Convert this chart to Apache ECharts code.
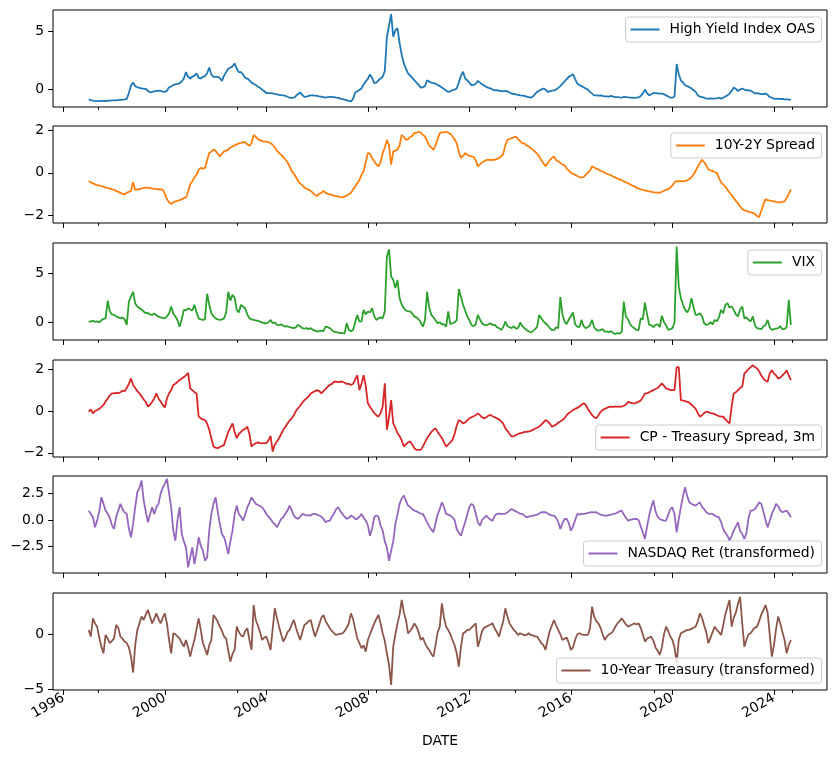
<!DOCTYPE html>
<html><head><meta charset="utf-8">
<script src="https://cdn.jsdelivr.net/npm/echarts@6/dist/echarts.min.js"></script>
<style>html,body{margin:0;padding:0;background:#fff}#c{width:838px;height:759px}</style>
</head><body><div id="c"></div><script>
// ---- data (monthly, starting Jan 1997) ----
const startYear = 1997;
const seriesNames = ['High Yield Index OAS','10Y-2Y Spread','VIX','CP - Treasury Spread, 3m','NASDAQ Ret (transformed)','10-Year Treasury (transformed)'];
const seriesColors = ['#1f77b4','#ff7f0e','#2ca02c','#d62728','#9467bd','#8c564b'];

const hyOAS = [
-0.84,-0.9,-0.95,-0.98,-0.99,-1.0,-0.98,-0.97,-1.0,-0.96,-0.95,-0.93,
-0.93,-0.92,-0.9,-0.88,-0.87,-0.85,-0.8,-0.3,0.35,0.6,0.3,0.2,
0.15,0.1,0.08,0.05,-0.1,-0.24,-0.2,-0.15,-0.12,-0.1,-0.12,-0.18,
-0.2,-0.1,0.2,0.25,0.4,0.45,0.5,0.55,0.7,0.95,1.5,1.1,
0.95,1.1,1.2,1.4,1.0,0.95,1.1,1.15,1.4,1.9,1.3,1.1,
1.1,1.1,1.0,0.75,1.2,1.5,1.8,1.9,2.0,2.25,1.8,1.5,
1.5,1.3,1.0,0.95,0.8,0.6,0.5,0.4,0.25,0.15,0.0,-0.15,
-0.3,-0.3,-0.3,-0.32,-0.38,-0.42,-0.45,-0.48,-0.5,-0.55,-0.62,-0.7,
-0.72,-0.7,-0.55,-0.38,-0.25,-0.45,-0.63,-0.6,-0.55,-0.5,-0.5,-0.52,
-0.55,-0.58,-0.6,-0.65,-0.7,-0.65,-0.63,-0.62,-0.65,-0.7,-0.72,-0.78,
-0.82,-0.87,-0.92,-0.98,-1.02,-0.8,-0.25,-0.15,-0.03,0.1,0.44,0.7,
0.92,1.3,1.0,0.55,0.6,0.8,0.95,1.1,1.6,4.5,5.5,6.5,
4.55,5.1,5.3,4.0,3.0,2.25,1.8,1.39,1.2,1.0,0.8,0.6,
0.4,0.17,0.2,0.3,0.8,0.7,0.6,0.55,0.52,0.4,0.3,0.17,
0.05,-0.1,-0.2,-0.15,-0.05,0.0,0.09,0.6,1.2,1.53,0.95,0.8,
0.6,0.37,0.4,0.5,0.75,0.6,0.45,0.35,0.23,0.15,0.1,0.0,
-0.06,-0.05,-0.1,-0.12,-0.15,-0.12,-0.15,-0.25,-0.35,-0.38,-0.42,-0.45,
-0.5,-0.52,-0.55,-0.6,-0.65,-0.7,-0.6,-0.4,-0.2,-0.1,0.0,0.09,
0.0,-0.2,-0.15,-0.1,-0.06,0.0,0.15,0.3,0.52,0.7,0.9,1.1,
1.2,1.33,0.9,0.52,0.4,0.3,0.2,0.09,0.0,-0.2,-0.35,-0.5,
-0.5,-0.52,-0.5,-0.55,-0.58,-0.58,-0.6,-0.55,-0.6,-0.65,-0.65,-0.68,
-0.7,-0.62,-0.65,-0.68,-0.7,-0.7,-0.72,-0.7,-0.68,-0.55,-0.35,0.0,
-0.3,-0.5,-0.4,-0.3,-0.3,-0.32,-0.35,-0.35,-0.4,-0.5,-0.6,-0.7,
-0.7,-0.6,2.2,1.3,0.8,0.6,0.37,0.3,0.2,0.1,-0.06,-0.2,
-0.5,-0.6,-0.65,-0.7,-0.78,-0.78,-0.75,-0.78,-0.78,-0.75,-0.7,-0.78,
-0.7,-0.6,-0.5,-0.35,-0.1,0.17,0.05,-0.12,0.0,0.09,0.0,-0.06,
-0.06,-0.1,-0.2,-0.35,-0.3,-0.35,-0.4,-0.38,-0.35,-0.45,-0.64,-0.7,
-0.78,-0.8,-0.78,-0.82,-0.8,-0.85,-0.85,-0.87,-0.87];

const spread10y2y = [
-0.39,-0.45,-0.5,-0.55,-0.58,-0.6,-0.63,-0.66,-0.7,-0.72,-0.75,-0.78,
-0.8,-0.86,-0.9,-0.95,-1.0,-1.02,-0.95,-0.9,-0.86,-0.44,-0.81,-0.78,
-0.78,-0.75,-0.72,-0.7,-0.7,-0.72,-0.75,-0.75,-0.78,-0.78,-0.78,-0.8,
-1.0,-1.25,-1.4,-1.48,-1.4,-1.35,-1.33,-1.3,-1.25,-1.2,-1.17,-0.9,
-0.55,-0.4,-0.2,-0.1,0.15,0.23,0.2,0.23,0.6,0.94,1.0,1.1,
1.05,0.9,0.78,0.9,1.02,1.05,1.1,1.2,1.25,1.3,1.35,1.4,
1.42,1.45,1.45,1.35,1.28,1.4,1.8,1.7,1.6,1.55,1.5,1.48,
1.48,1.45,1.4,1.33,1.2,1.05,0.94,0.85,0.75,0.62,0.5,0.3,
0.08,-0.05,-0.2,-0.39,-0.5,-0.6,-0.7,-0.75,-0.8,-0.86,-0.95,-1.05,
-1.1,-1.0,-0.95,-0.86,-0.95,-1.0,-1.02,-1.05,-1.08,-1.1,-1.12,-1.15,
-1.17,-1.12,-1.08,-1.02,-0.95,-0.78,-0.65,-0.5,-0.35,-0.1,0.08,0.5,
0.94,0.9,0.7,0.55,0.4,0.31,0.5,0.94,1.2,1.56,1.3,0.39,
1.02,1.05,1.1,1.3,1.8,1.7,1.56,1.6,1.7,1.75,1.88,1.9,
1.95,1.9,1.8,1.72,1.5,1.3,1.2,1.09,1.3,1.6,1.88,1.92,
1.92,1.95,1.9,1.85,1.72,1.6,1.4,1.0,0.7,0.8,0.94,0.85,
0.8,0.78,0.75,0.6,0.31,0.4,0.5,0.55,0.6,0.62,0.6,0.62,
0.62,0.66,0.7,0.78,0.9,1.3,1.56,1.6,1.65,1.68,1.72,1.6,
1.5,1.4,1.4,1.3,1.25,1.17,1.1,1.0,0.9,0.78,0.6,0.45,
0.31,0.45,0.6,0.7,0.78,0.6,0.55,0.47,0.4,0.35,0.2,0.1,
0.0,-0.05,-0.1,-0.15,-0.2,-0.23,-0.2,-0.1,0.0,0.1,0.31,0.25,
0.2,0.16,0.1,0.05,0.0,-0.05,-0.08,-0.12,-0.18,-0.22,-0.28,-0.31,
-0.35,-0.4,-0.45,-0.5,-0.55,-0.6,-0.65,-0.7,-0.75,-0.78,-0.8,-0.84,
-0.86,-0.88,-0.9,-0.92,-0.94,-0.94,-0.94,-0.9,-0.85,-0.8,-0.78,-0.7,
-0.6,-0.45,-0.39,-0.4,-0.39,-0.4,-0.39,-0.35,-0.3,-0.2,-0.08,0.1,
0.3,0.45,0.62,0.5,0.35,0.16,0.12,0.08,0.04,0.0,-0.25,-0.45,
-0.55,-0.65,-0.8,-0.94,-1.05,-1.2,-1.33,-1.45,-1.6,-1.72,-1.78,-1.82,
-1.85,-1.88,-1.9,-1.95,-2.05,-2.1,-1.8,-1.5,-1.25,-1.3,-1.32,-1.33,
-1.35,-1.38,-1.4,-1.4,-1.38,-1.35,-1.2,-1.0,-0.78];

const vix = [
0.05,0.1,0.15,0.05,0.1,0.0,0.2,0.35,0.4,2.2,1.1,0.8,
0.75,0.6,0.5,0.4,0.5,0.3,-0.27,2.1,2.6,3.1,1.9,1.6,
1.43,1.3,1.1,0.92,0.95,0.8,0.75,0.9,0.7,0.58,0.5,0.45,
0.4,0.6,0.9,1.6,0.9,0.58,0.2,-0.44,0.3,1.26,1.2,1.43,
1.3,1.2,1.77,1.0,0.4,0.3,0.24,0.3,2.9,1.8,0.92,0.6,
0.4,0.3,0.24,0.3,0.4,1.0,3.1,2.2,2.8,2.5,1.26,1.0,
1.77,1.6,1.4,0.8,0.4,0.3,0.24,0.2,0.15,0.07,0.0,-0.1,
-0.1,0.0,0.24,-0.1,0.0,-0.27,-0.3,-0.2,-0.35,-0.44,-0.4,-0.5,
-0.55,-0.6,-0.5,-0.27,-0.4,-0.6,-0.65,-0.6,-0.7,-0.6,-0.78,-0.85,
-0.95,-0.9,-0.85,-0.9,-0.44,-0.5,-0.6,-0.8,-0.95,-1.0,-1.05,-1.1,
-1.1,-1.12,-0.1,-0.78,-0.9,-0.78,0.0,0.75,0.07,0.1,1.26,0.8,
1.1,1.0,1.43,0.6,0.24,0.4,0.5,0.4,1.1,6.7,7.4,4.66,
4.3,3.47,4.3,2.45,1.8,1.43,1.2,1.1,1.1,0.9,0.58,0.5,
0.3,0.0,-0.44,0.2,3.1,1.5,0.75,0.5,0.2,-0.1,0.0,-0.2,
-0.2,-0.44,1.1,-0.2,-0.1,0.0,0.2,3.37,2.6,1.77,1.2,0.58,
0.2,-0.27,-0.4,-0.2,0.75,0.3,-0.1,-0.27,-0.3,-0.2,-0.1,-0.27,
-0.27,-0.5,-0.6,-0.78,-0.5,0.07,-0.4,-0.5,-0.6,-0.4,-0.65,-0.6,
-0.03,-0.4,-0.6,-0.78,-0.9,-1.05,-0.9,-0.7,-0.5,0.75,0.4,0.1,
-0.1,-0.3,-0.6,-0.78,-0.8,-0.5,-0.6,2.55,0.8,0.07,-0.2,0.3,
0.6,0.99,-0.2,-0.44,-0.5,0.24,-0.4,-0.6,-0.5,-0.3,0.24,-0.5,
-0.78,-0.85,-0.8,-0.7,-0.95,-0.95,-1.0,-0.9,-1.1,-1.19,-1.1,-1.15,
-1.0,2.1,0.58,0.3,-0.2,-0.44,-0.6,-0.78,-0.8,0.4,0.3,2.0,
0.8,-0.27,-0.3,-0.5,-0.27,-0.2,-0.5,0.65,0.0,-0.3,-0.78,-0.7,
-0.6,0.0,7.7,3.6,2.45,1.8,1.26,1.0,1.4,2.45,1.5,0.75,
0.75,0.92,0.6,-0.1,-0.27,-0.2,0.0,-0.2,0.24,0.1,0.5,1.26,
0.9,1.77,1.94,1.5,1.6,1.26,0.8,0.6,1.3,1.6,0.4,0.5,
0.24,0.1,0.6,-0.3,-0.6,-0.65,-0.7,-0.4,-0.3,0.24,-0.5,-0.78,
-0.7,-0.65,-0.6,-0.4,-0.7,-0.7,-0.5,2.28,-0.27];

const cpSpread = [
-0.03,0.08,-0.11,0.0,0.05,0.1,0.2,0.29,0.45,0.6,0.75,0.84,
0.84,0.87,0.85,0.9,0.97,0.95,1.1,1.3,1.56,1.24,1.1,0.95,
0.84,0.7,0.55,0.44,0.21,0.3,0.44,0.6,0.84,0.6,0.45,0.3,
0.17,0.6,0.84,1.0,1.24,1.3,1.4,1.48,1.55,1.63,1.7,1.83,
1.08,1.0,0.9,0.84,-0.27,-0.35,-0.4,-0.43,-0.6,-0.9,-1.3,-1.7,
-1.75,-1.78,-1.72,-1.68,-1.62,-1.3,-1.0,-0.8,-0.59,-1.0,-1.3,-1.1,
-1.0,-0.9,-0.85,-0.75,-1.1,-1.7,-1.6,-1.54,-1.5,-1.54,-1.55,-1.54,
-1.54,-1.4,-1.19,-1.94,-1.6,-1.46,-1.3,-1.1,-0.9,-0.75,-0.6,-0.45,
-0.35,-0.2,0.0,0.13,0.25,0.4,0.52,0.6,0.7,0.84,0.9,0.95,
1.0,0.95,0.84,0.95,1.05,1.16,1.25,1.3,1.4,1.4,1.38,1.4,
1.4,1.35,1.3,1.3,1.24,1.3,1.5,1.71,1.0,1.3,1.71,1.2,
0.37,0.2,0.05,-0.1,-0.2,-0.27,-0.1,0.21,1.32,-0.9,-0.3,0.52,
-0.59,-0.8,-1.06,-1.2,-1.4,-1.7,-1.6,-1.5,-1.46,-1.6,-1.78,-1.86,
-1.86,-1.86,-1.7,-1.5,-1.3,-1.15,-1.0,-0.9,-0.83,-1.0,-1.15,-1.3,
-1.5,-1.7,-1.6,-1.5,-1.38,-1.1,-0.7,-0.43,-0.5,-0.59,-0.55,-0.45,
-0.35,-0.3,-0.25,-0.2,-0.11,-0.2,-0.3,-0.35,-0.3,-0.22,-0.19,-0.25,
-0.3,-0.35,-0.4,-0.5,-0.6,-0.83,-0.95,-1.1,-1.22,-1.2,-1.15,-1.1,
-1.06,-1.05,-1.0,-1.0,-0.98,-0.95,-0.9,-0.85,-0.8,-0.75,-0.65,-0.55,
-0.43,-0.5,-0.6,-0.75,-0.7,-0.65,-0.55,-0.5,-0.43,-0.35,-0.2,-0.1,
-0.03,0.05,0.1,0.15,0.21,0.3,0.37,0.3,0.1,-0.05,-0.19,-0.3,
-0.35,-0.2,-0.05,0.05,0.1,0.15,0.2,0.21,0.2,0.22,0.2,0.21,
0.21,0.25,0.3,0.44,0.4,0.38,0.37,0.4,0.45,0.5,0.65,0.84,
0.84,0.9,0.95,1.0,1.05,1.1,1.2,1.32,1.2,1.08,1.05,1.0,
1.0,1.0,2.1,2.1,0.52,0.5,0.48,0.44,0.4,0.3,0.21,0.1,
-0.1,-0.27,-0.2,-0.1,-0.03,-0.05,-0.1,-0.11,-0.15,-0.2,-0.25,-0.27,
-0.27,-0.4,-0.5,-0.59,0.21,0.84,0.9,1.0,1.1,1.16,1.79,1.9,
2.0,2.1,2.19,2.1,2.03,1.9,1.7,1.55,1.45,1.4,1.8,1.95,
1.8,1.7,1.56,1.6,1.7,1.8,1.95,1.7,1.48];

const nasdaqRet = [
0.87,0.56,0.25,-0.69,-0.06,0.8,2.12,1.5,0.87,0.6,0.2,-0.5,
-0.84,0.3,0.87,1.5,1.0,0.7,0.56,-0.8,-1.62,-0.37,1.2,2.59,
3.0,3.68,1.81,0.8,-0.22,0.5,1.19,0.56,1.19,1.5,2.43,3.0,
3.37,3.84,2.5,1.19,-1.0,-1.94,0.0,1.19,-1.31,-2.0,-2.56,-4.43,
-3.5,-2.56,-4.12,-3.0,-1.62,-2.4,-2.87,-3.81,-3.5,-1.0,0.56,1.5,
2.12,0.8,-0.37,-1.31,-1.62,-2.3,-3.18,-2.0,-1.0,0.5,1.34,0.56,
0.3,-0.06,0.5,1.19,1.6,2.12,1.8,1.5,1.4,1.3,1.19,0.9,
0.56,0.3,0.1,-0.22,-0.4,-0.69,-0.3,0.1,0.25,0.6,0.87,1.34,
0.9,0.41,0.2,0.09,0.3,0.56,0.5,0.41,0.45,0.41,0.56,0.56,
0.5,0.41,0.3,0.1,-0.22,-0.1,-0.06,0.3,0.6,1.0,1.19,0.8,
0.56,0.3,0.09,0.2,0.41,0.3,0.09,0.1,0.3,0.56,0.2,-0.06,
-0.5,-1.47,-0.8,0.25,0.41,0.3,-0.5,-1.0,-2.0,-2.56,-3.81,-2.87,
-2.0,-0.37,0.5,1.5,2.0,2.28,1.8,1.34,1.2,1.0,0.87,0.8,
0.7,0.6,0.56,0.2,-0.22,-0.6,-0.9,-1.15,-0.3,0.5,1.03,1.65,
1.2,0.56,0.5,0.4,0.25,0.0,-0.84,-1.2,-1.47,-0.8,-0.22,0.5,
1.2,1.5,1.34,0.6,-0.2,-0.53,0.0,0.2,0.41,0.2,0.0,-0.06,
0.4,0.56,0.6,0.56,0.56,0.6,0.7,0.9,1.03,0.9,0.8,0.7,
0.6,0.56,0.4,0.25,0.3,0.35,0.41,0.45,0.5,0.6,0.72,0.72,
0.72,0.6,0.5,0.41,0.4,0.2,-0.2,-0.84,-0.3,0.09,0.1,-0.3,
-1.0,-0.6,0.0,0.56,0.5,0.56,0.56,0.6,0.65,0.7,0.72,0.7,
0.72,0.6,0.5,0.45,0.41,0.4,0.45,0.5,0.56,0.6,0.7,0.8,
0.87,0.5,0.2,-0.06,0.0,0.05,0.09,0.1,0.0,-0.6,-1.15,-1.78,
-0.6,0.41,1.2,1.81,0.8,0.3,0.09,0.0,-0.06,-0.06,0.5,1.0,
1.19,0.5,-1.15,0.09,1.2,2.2,3.06,2.2,1.65,1.5,1.4,1.34,
1.5,1.65,1.2,1.0,0.72,0.6,0.56,0.56,0.4,0.3,0.25,-0.2,
-0.84,-1.2,-1.47,-1.94,-1.5,-1.0,-0.6,-0.22,-1.0,-1.3,-1.78,-1.2,
0.2,0.87,0.9,1.03,1.3,1.65,1.5,0.8,0.0,-0.69,-0.1,0.56,
1.0,1.5,1.3,0.9,0.72,0.8,0.87,0.6,0.25];

const treasury10y = [
0.4,-0.21,1.46,1.0,0.7,-0.3,-1.13,-1.74,-0.06,-0.4,-0.82,-0.6,
-0.37,0.85,0.6,-0.21,-0.4,-0.67,-0.8,-1.2,-2.04,-3.5,-1.0,0.4,
1.0,1.62,1.31,1.8,2.23,1.6,1.0,1.4,1.92,1.4,1.0,1.5,
1.92,1.0,-0.5,-1.74,0.09,0.0,-0.2,-0.37,-0.8,-1.13,-0.52,-1.2,
-2.04,-1.2,-0.52,0.5,1.46,0.4,-0.82,-1.3,-1.89,-1.0,-0.52,1.77,
1.5,1.16,0.7,0.3,-0.2,-0.37,-1.5,-2.5,-1.8,-1.43,0.7,0.2,
-0.1,-0.21,0.3,0.55,-0.5,-1.43,2.68,1.31,0.8,0.2,-0.52,-0.3,
-0.21,-0.8,-1.43,0.5,2.38,1.5,0.7,0.0,-0.67,-0.3,0.2,0.4,
0.9,1.31,0.6,0.0,-0.52,0.2,0.85,1.0,1.2,1.31,0.5,-0.21,
0.3,0.9,1.5,1.77,1.2,0.9,0.55,0.3,0.1,-0.06,0.0,0.05,
0.09,0.3,0.6,1.0,1.92,1.4,0.5,-0.37,-0.8,-1.28,-1.0,-1.59,
-0.52,0.0,0.5,1.0,1.4,1.77,1.0,0.09,-0.6,-1.74,-2.8,-4.63,
-1.13,0.0,1.0,1.8,3.14,2.0,1.31,0.09,0.3,0.6,1.0,0.7,
0.2,-0.52,-0.3,-0.8,-1.2,-1.43,-1.8,-2.04,-1.0,0.2,0.7,2.84,
1.5,0.7,0.4,0.0,-0.52,-1.0,-1.74,-2.96,-1.2,0.09,0.2,0.4,
0.4,0.6,0.8,1.0,-1.13,-0.5,0.3,0.6,0.7,0.8,0.9,1.0,
0.5,0.2,-0.21,0.5,1.2,2.38,1.6,1.0,0.7,0.4,0.2,-0.06,
0.1,0.0,-0.1,-0.06,0.1,-0.06,-0.1,-0.2,-0.21,-0.5,-0.8,-1.0,
-1.43,-0.5,0.3,0.8,1.31,0.8,0.4,0.0,-0.52,-0.4,-0.3,-0.8,
-1.43,-1.2,-0.5,0.0,0.09,0.0,-0.06,-0.06,-0.06,0.5,2.53,1.6,
1.2,1.0,0.6,0.0,-0.52,-0.2,0.0,0.09,0.3,0.7,1.0,1.2,
1.46,1.2,0.9,0.7,0.8,0.9,1.0,0.9,1.0,0.6,0.0,-0.67,
-0.4,-0.3,-0.21,-0.6,-1.2,-1.5,-1.89,-1.2,0.0,0.7,0.3,-0.2,
-0.52,-1.2,-2.65,-0.5,0.09,0.2,0.3,0.4,0.4,0.5,0.6,0.7,
1.2,1.92,1.5,0.8,0.2,-0.82,-0.3,0.2,0.7,0.4,0.2,-0.06,
0.8,1.8,2.5,3.14,0.7,1.5,2.0,2.8,3.44,1.0,-1.13,-0.5,
0.0,0.09,0.4,0.6,0.7,1.2,1.8,2.2,2.68,2.0,0.0,-2.04,
-1.0,0.5,1.62,1.0,0.2,-0.5,-1.74,-1.0,-0.52];

const xMajorTicks = [1996,2000,2004,2008,2012,2016,2020,2024];
const xMinorTicks = [1997.38,2002.86,2008.34,2013.8,2019.3,2024.74];
const yTicks = [[0,5],[-2,0,2],[0,5],[-2,0,2],[-2.5,0,2.5],[-5,0]];
const yDecimals = [0,0,0,0,1,0];
const xAxisTitle = 'DATE';

// ---- layout ----
const allSeries = [hyOAS, spread10y2y, vix, cpSpread, nasdaqRet, treasury10y];
const yRanges = [[-1.5,6.85],[-2.38,2.22],[-1.8,8.05],[-2.2,2.44],[-4.95,4.1],[-5.1,3.78]];
const gridTops = [10,126,243,360,476,593];
const gridH = 97, gridLeft = 53, gridRight = 11;
const xMin = 1995.594, xMax = 2026.09;
const FONT = 'DejaVu Sans', FS = 13.9;
const legendUpper = [true,true,true,false,false,false];

function pairs(arr){ return arr.map((v,i)=>[startYear + i/12, v]); }
function fmtY(v,d){ const s = Math.abs(v).toFixed(d); return (v < 0 ? '\u2212' : '') + s; }

const grid=[], xAxis=[], yAxis=[], series=[], legend=[];
for (let i=0;i<6;i++){
  grid.push({left:gridLeft,right:gridRight,top:gridTops[i],height:gridH,show:true,borderColor:'#000',borderWidth:1,backgroundColor:'transparent',containLabel:false});
  const last = i===5;
  xAxis.push({type:'value',gridIndex:i,min:xMin,max:xMax,position:'bottom',
    axisLine:{show:false,onZero:false},splitLine:{show:false},
    axisTick:{show:true,customValues:xMajorTicks,length:4.9,lineStyle:{color:'#000',width:1}},
    axisLabel:{show:last,customValues:xMajorTicks,rotate:30,margin:7,formatter:v=>String(Math.round(v)),fontFamily:FONT,fontSize:FS,color:'#000'},
    name:last?xAxisTitle:'',nameLocation:'middle',nameGap:44,nameTextStyle:{fontFamily:FONT,fontSize:FS,color:'#000'}});
  xAxis.push({type:'value',gridIndex:i,min:xMin,max:xMax,position:'bottom',
    axisLine:{show:false,onZero:false},splitLine:{show:false},
    axisTick:{show:true,customValues:xMinorTicks,length:2.8,lineStyle:{color:'#000',width:1}},
    axisLabel:{show:false}});
  const d = yDecimals[i];
  yAxis.push({type:'value',gridIndex:i,min:yRanges[i][0],max:yRanges[i][1],position:'left',
    axisLine:{show:false,onZero:false},splitLine:{show:false},
    axisTick:{show:true,customValues:yTicks[i],length:4.9,lineStyle:{color:'#000',width:1}},
    axisLabel:{customValues:yTicks[i],margin:9,formatter:v=>fmtY(v,d),fontFamily:FONT,fontSize:FS,color:'#000'}});
  series.push({name:seriesNames[i],type:'line',xAxisIndex:2*i,yAxisIndex:i,data:pairs(allSeries[i]),
    showSymbol:false,symbol:'none',lineStyle:{width:1.8,color:seriesColors[i]},itemStyle:{color:seriesColors[i]},
    animation:false,z:2});
  const lg = {data:[seriesNames[i]],right:16.5,icon:'rect',itemWidth:29,itemHeight:2,
    padding:[4.5,6.5,4.5,5],backgroundColor:'rgba(255,255,255,0.8)',borderColor:'#cccccc',borderWidth:1,borderRadius:3,
    selectedMode:false,z:10,
    textStyle:{fontFamily:FONT,fontSize:FS,color:'#000',padding:[0,0,0,5],lineHeight:16}};
  if (legendUpper[i]) lg.top = gridTops[i]+7; else lg.top = gridTops[i]+gridH-7-25;
  legend.push(lg);
}

const chart = echarts.init(document.getElementById('c'), null, {renderer:'canvas'});
chart.setOption({animation:false,backgroundColor:'#fff',grid,xAxis,yAxis,series,legend});
</script></body></html>
